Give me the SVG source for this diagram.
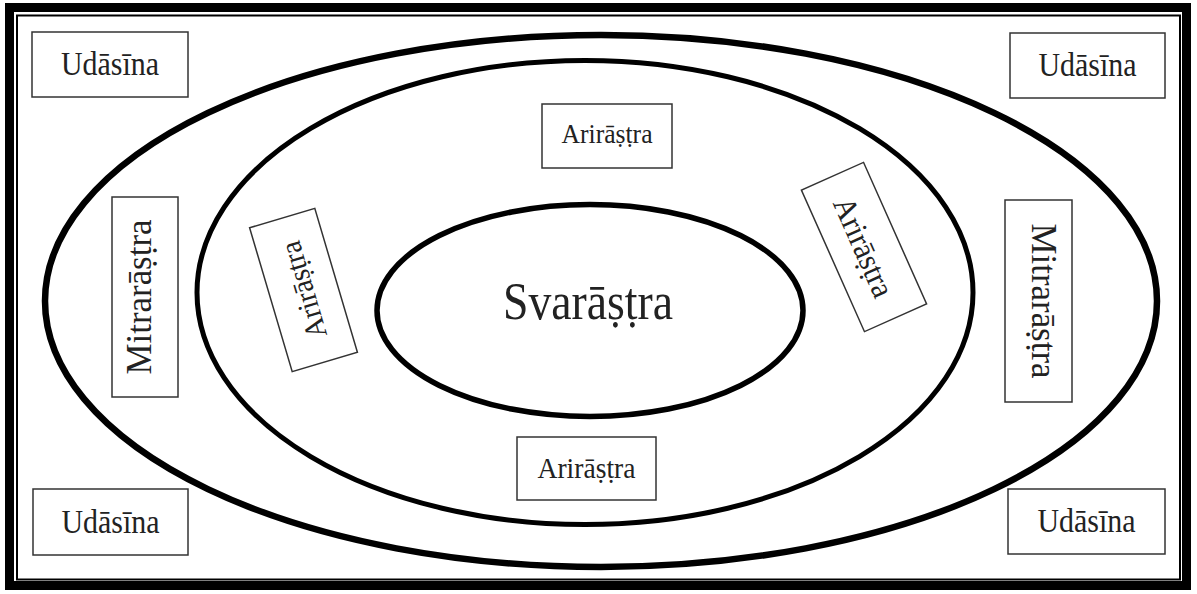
<svg xmlns="http://www.w3.org/2000/svg" width="1197" height="594" viewBox="0 0 1197 594">
<style>
.t{font-family:"Liberation Serif","Times New Roman",serif;fill:#222;text-anchor:middle}
.box{fill:#fff;stroke:#333;stroke-width:1.5}
.ell{fill:none;stroke:#000}
</style>
<rect width="1197" height="594" fill="#fff"/>
<g id="frame">
<rect x="9.5" y="7.5" width="1177" height="578" fill="none" stroke="#000" stroke-width="9"/>
<rect x="17" y="15.5" width="1163" height="564" fill="none" stroke="#000" stroke-width="2"/>
</g>
<g id="connectors"></g>
<g id="outer-ring"><ellipse class="ell" cx="601" cy="301" rx="556" ry="266" stroke-width="6.5"/></g>
<g id="middle-ring"><ellipse class="ell" cx="585" cy="292.5" rx="388" ry="232" stroke-width="5"/></g>
<g id="svarastra">
<ellipse class="ell" cx="590" cy="310.5" rx="213" ry="106" stroke-width="5.5"/>
<text class="t" x="588" y="319" font-size="53" textLength="170" lengthAdjust="spacingAndGlyphs">Svarāṣṭra</text>
</g>
<g id="udasina-tl"><rect class="box" x="32" y="32" width="156" height="65"/>
<text class="t" x="110" y="75" font-size="34" textLength="98" lengthAdjust="spacingAndGlyphs">Udāsīna</text></g>
<g id="udasina-tr"><rect class="box" x="1010" y="33" width="155" height="65"/>
<text class="t" x="1087.5" y="76" font-size="34" textLength="98" lengthAdjust="spacingAndGlyphs">Udāsīna</text></g>
<g id="udasina-bl"><rect class="box" x="33" y="489" width="155" height="66"/>
<text class="t" x="110.5" y="533" font-size="34" textLength="98" lengthAdjust="spacingAndGlyphs">Udāsīna</text></g>
<g id="udasina-br"><rect class="box" x="1008" y="489" width="157" height="65"/>
<text class="t" x="1086.5" y="532" font-size="34" textLength="98" lengthAdjust="spacingAndGlyphs">Udāsīna</text></g>
<g id="arirastra-top"><rect class="box" x="542" y="104" width="130" height="64"/>
<text class="t" x="607" y="143" font-size="28" textLength="91" lengthAdjust="spacingAndGlyphs">Arirāṣṭra</text></g>
<g id="arirastra-bottom"><rect class="box" x="517" y="437" width="139" height="63"/>
<text class="t" x="586.5" y="478" font-size="30" textLength="98" lengthAdjust="spacingAndGlyphs">Arirāṣṭra</text></g>
<g id="arirastra-left" transform="translate(303.5,290) rotate(-106.5)">
<rect class="box" x="-75" y="-34" width="150" height="68"/>
<text class="t" x="0" y="10" font-size="30" textLength="100" lengthAdjust="spacingAndGlyphs">Arirāṣṭra</text></g>
<g id="arirastra-right" transform="translate(864,247) rotate(66)">
<rect class="box" x="-77.5" y="-34" width="155" height="68"/>
<text class="t" x="0" y="11" font-size="32" textLength="106" lengthAdjust="spacingAndGlyphs">Arirāṣṭra</text></g>
<g id="mitrarastra-left" transform="translate(145,297) rotate(-90)">
<rect class="box" x="-100" y="-33" width="200" height="66"/>
<text class="t" x="0" y="6" font-size="35" textLength="155" lengthAdjust="spacingAndGlyphs">Mitrarāṣṭra</text></g>
<g id="mitrarastra-right" transform="translate(1038.5,301) rotate(90)">
<rect class="box" x="-101" y="-33.5" width="202" height="67"/>
<text class="t" x="0" y="6.5" font-size="35" textLength="155" lengthAdjust="spacingAndGlyphs">Mitrarāṣṭra</text></g>
</svg>
